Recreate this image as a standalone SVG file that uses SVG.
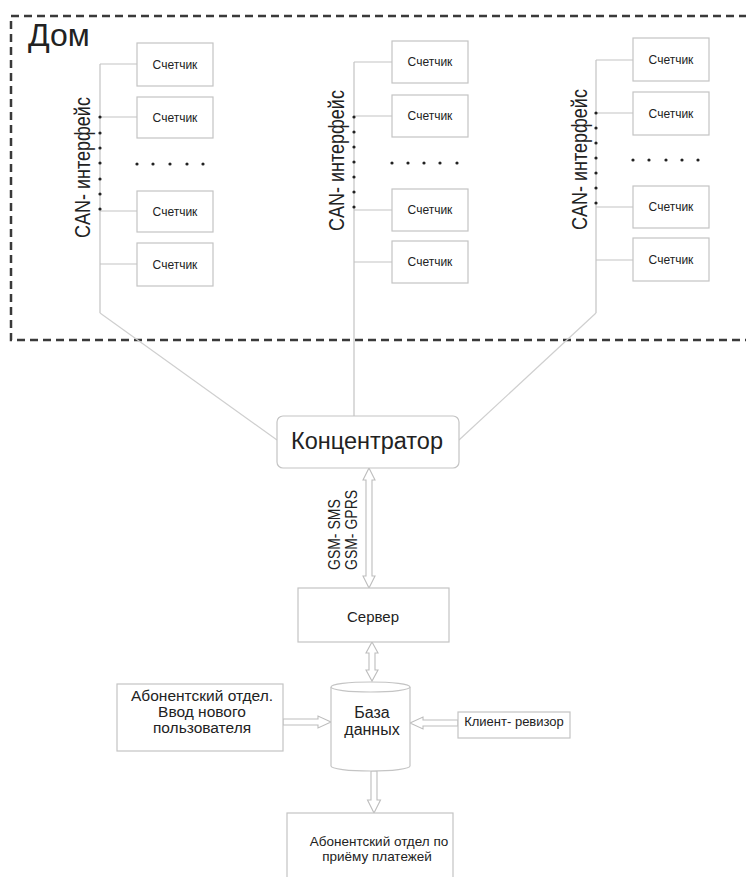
<svg xmlns="http://www.w3.org/2000/svg" width="746" height="877" viewBox="0 0 746 877">
<style>
text{font-family:"Liberation Sans",Arial,sans-serif;fill:#222}
.box{fill:#fff;stroke:#c4c4c4;stroke-width:1.2}
.ln{fill:none;stroke:#cfcfcf;stroke-width:1.2}
.bus{fill:none;stroke:#c4c4c4;stroke-width:1.2}
.arr{fill:#fff;stroke:#bdbdbd;stroke-width:1.1}
.m{font-size:12px;text-anchor:middle}
.can{font-size:18px}
.dot{fill:#222}
</style>
<rect width="746" height="877" fill="#fff"/>
<g id="house">
<path d="M760,16 L11,16 L11,340 L760,340" fill="none" stroke="#3a3a3a" stroke-width="2.5" stroke-dasharray="8 5"/>
<text x="28" y="46" font-size="32">Дом</text>
</g>
<g id="connectors">
<path class="bus" d="M100,64 V313 M100,64 H137 M100,117 H137 M100,211 H137 M100,264 H137"/>
<path class="bus" d="M354,62 V416 M354,62 H392 M354,116 H392 M354,210 H392 M354,262 H392"/>
<path class="bus" d="M596,60 V313 M596,60 H633 M596,113 H633 M596,207 H633 M596,260 H633"/>
<path class="ln" d="M100,313 L277,440"/>
<path class="ln" d="M596,313 L459,440"/>
<polygon class="arr" points="369,468 375,480 372,480 372,576 375,576 369,588 363,576 366,576 366,480 363,480"/>
<polygon class="arr" points="372,642 378,653 375,653 375,670 378,670 372,681 366,670 369,670 369,653 366,653"/>
<polygon class="arr" points="331,722 318,716 318,719 283,719 283,725 318,725 318,728"/>
<polygon class="arr" points="410,723 423,717 423,720 458,720 458,726 423,726 423,729"/>
<polygon class="arr" points="374,813 380.5,800 377,800 377,771 371,771 371,800 367.5,800"/>
</g>
<g id="bus-left">
<text class="can" transform="translate(90,238) rotate(-90) scale(1,1.2)">CAN- интерфейс</text>
<g class="dot"><circle cx="100" cy="117" r="1.6"/><circle cx="100" cy="133" r="1.6"/><circle cx="100" cy="148" r="1.6"/><circle cx="100" cy="163" r="1.6"/><circle cx="100" cy="179" r="1.6"/><circle cx="100" cy="194" r="1.6"/><circle cx="100" cy="209" r="1.6"/>
<circle cx="137" cy="164" r="1.6"/><circle cx="153" cy="164" r="1.6"/><circle cx="170" cy="164" r="1.6"/><circle cx="187" cy="164" r="1.6"/><circle cx="203" cy="164" r="1.6"/></g>
</g>
<g id="bus-middle">
<text class="can" transform="translate(344,231) rotate(-90) scale(1,1.2)">CAN- интерфейс</text>
<g class="dot"><circle cx="354" cy="117" r="1.6"/><circle cx="354" cy="132" r="1.6"/><circle cx="354" cy="147" r="1.6"/><circle cx="354" cy="162" r="1.6"/><circle cx="354" cy="177" r="1.6"/><circle cx="354" cy="192" r="1.6"/><circle cx="354" cy="207" r="1.6"/>
<circle cx="392" cy="163" r="1.6"/><circle cx="408" cy="163" r="1.6"/><circle cx="424" cy="163" r="1.6"/><circle cx="440" cy="163" r="1.6"/><circle cx="457" cy="163" r="1.6"/></g>
</g>
<g id="bus-right">
<text class="can" transform="translate(587,230) rotate(-90) scale(1,1.2)">CAN- интерфейс</text>
<g class="dot"><circle cx="596" cy="113" r="1.6"/><circle cx="596" cy="128" r="1.6"/><circle cx="596" cy="143" r="1.6"/><circle cx="596" cy="158" r="1.6"/><circle cx="596" cy="173" r="1.6"/><circle cx="596" cy="188" r="1.6"/><circle cx="596" cy="203" r="1.6"/>
<circle cx="633" cy="160" r="1.6"/><circle cx="649" cy="160" r="1.6"/><circle cx="666" cy="160" r="1.6"/><circle cx="682" cy="160" r="1.6"/><circle cx="698" cy="160" r="1.6"/></g>
</g>
<g id="meter-l1"><rect class="box" x="137" y="43" width="76" height="43"/><text class="m" x="175" y="69">Счетчик</text></g>
<g id="meter-l2"><rect class="box" x="137" y="97" width="76" height="41"/><text class="m" x="175" y="122">Счетчик</text></g>
<g id="meter-l3"><rect class="box" x="137" y="191" width="76" height="41"/><text class="m" x="175" y="216">Счетчик</text></g>
<g id="meter-l4"><rect class="box" x="137" y="243" width="76" height="43"/><text class="m" x="175" y="269">Счетчик</text></g>
<g id="meter-m1"><rect class="box" x="392" y="41" width="76" height="42"/><text class="m" x="430" y="66">Счетчик</text></g>
<g id="meter-m2"><rect class="box" x="392" y="95" width="76" height="42"/><text class="m" x="430" y="120">Счетчик</text></g>
<g id="meter-m3"><rect class="box" x="392" y="189" width="76" height="42"/><text class="m" x="430" y="214">Счетчик</text></g>
<g id="meter-m4"><rect class="box" x="392" y="241" width="76" height="42"/><text class="m" x="430" y="266">Счетчик</text></g>
<g id="meter-r1"><rect class="box" x="633" y="38" width="76" height="43"/><text class="m" x="671" y="64">Счетчик</text></g>
<g id="meter-r2"><rect class="box" x="633" y="92" width="76" height="43"/><text class="m" x="671" y="118">Счетчик</text></g>
<g id="meter-r3"><rect class="box" x="633" y="186" width="76" height="42"/><text class="m" x="671" y="211">Счетчик</text></g>
<g id="meter-r4"><rect class="box" x="633" y="238" width="76" height="43"/><text class="m" x="671" y="264">Счетчик</text></g>
<g id="concentrator"><rect class="box" x="277" y="416" width="182" height="52" rx="6"/><text x="367" y="449" font-size="23.5" text-anchor="middle">Концентратор</text></g>
<g id="gsm-labels">
<text font-size="14" transform="translate(340,570) rotate(-90) scale(1,1.2)">GSM- SMS</text>
<text font-size="14" transform="translate(357,570) rotate(-90) scale(1,1.2)">GSM- GPRS</text>
</g>
<g id="server"><rect class="box" x="298" y="588" width="151" height="54"/><text x="373" y="622" font-size="15" text-anchor="middle">Сервер</text></g>
<g id="database">
<path class="box" d="M331,687 A39.5,5 0 0 1 410,687 L410,766 A39.5,5 0 0 1 331,766 Z"/>
<path class="box" fill="none" d="M331,687 A39.5,5 0 0 0 410,687"/>
<text x="372" y="718" font-size="16" text-anchor="middle">База</text>
<text x="372" y="735" font-size="16" text-anchor="middle">данных</text>
</g>
<g id="subscriber-input"><rect class="box" x="117" y="684" width="166" height="67"/>
<text x="202" y="701" font-size="15.5" text-anchor="middle">Абонентский отдел.</text>
<text x="202" y="717" font-size="15.5" text-anchor="middle">Ввод нового</text>
<text x="202" y="733" font-size="15.5" text-anchor="middle">пользователя</text></g>
<g id="client-auditor"><rect class="box" x="458" y="712" width="112" height="26"/><text x="514" y="726" font-size="13" text-anchor="middle">Клиент- ревизор</text></g>
<g id="payments"><rect class="box" x="287" y="813" width="166" height="80"/>
<text x="379" y="846" font-size="13.5" text-anchor="middle">Абонентский отдел по</text>
<text x="377" y="861" font-size="13.5" text-anchor="middle">приёму платежей</text></g>
</svg>
